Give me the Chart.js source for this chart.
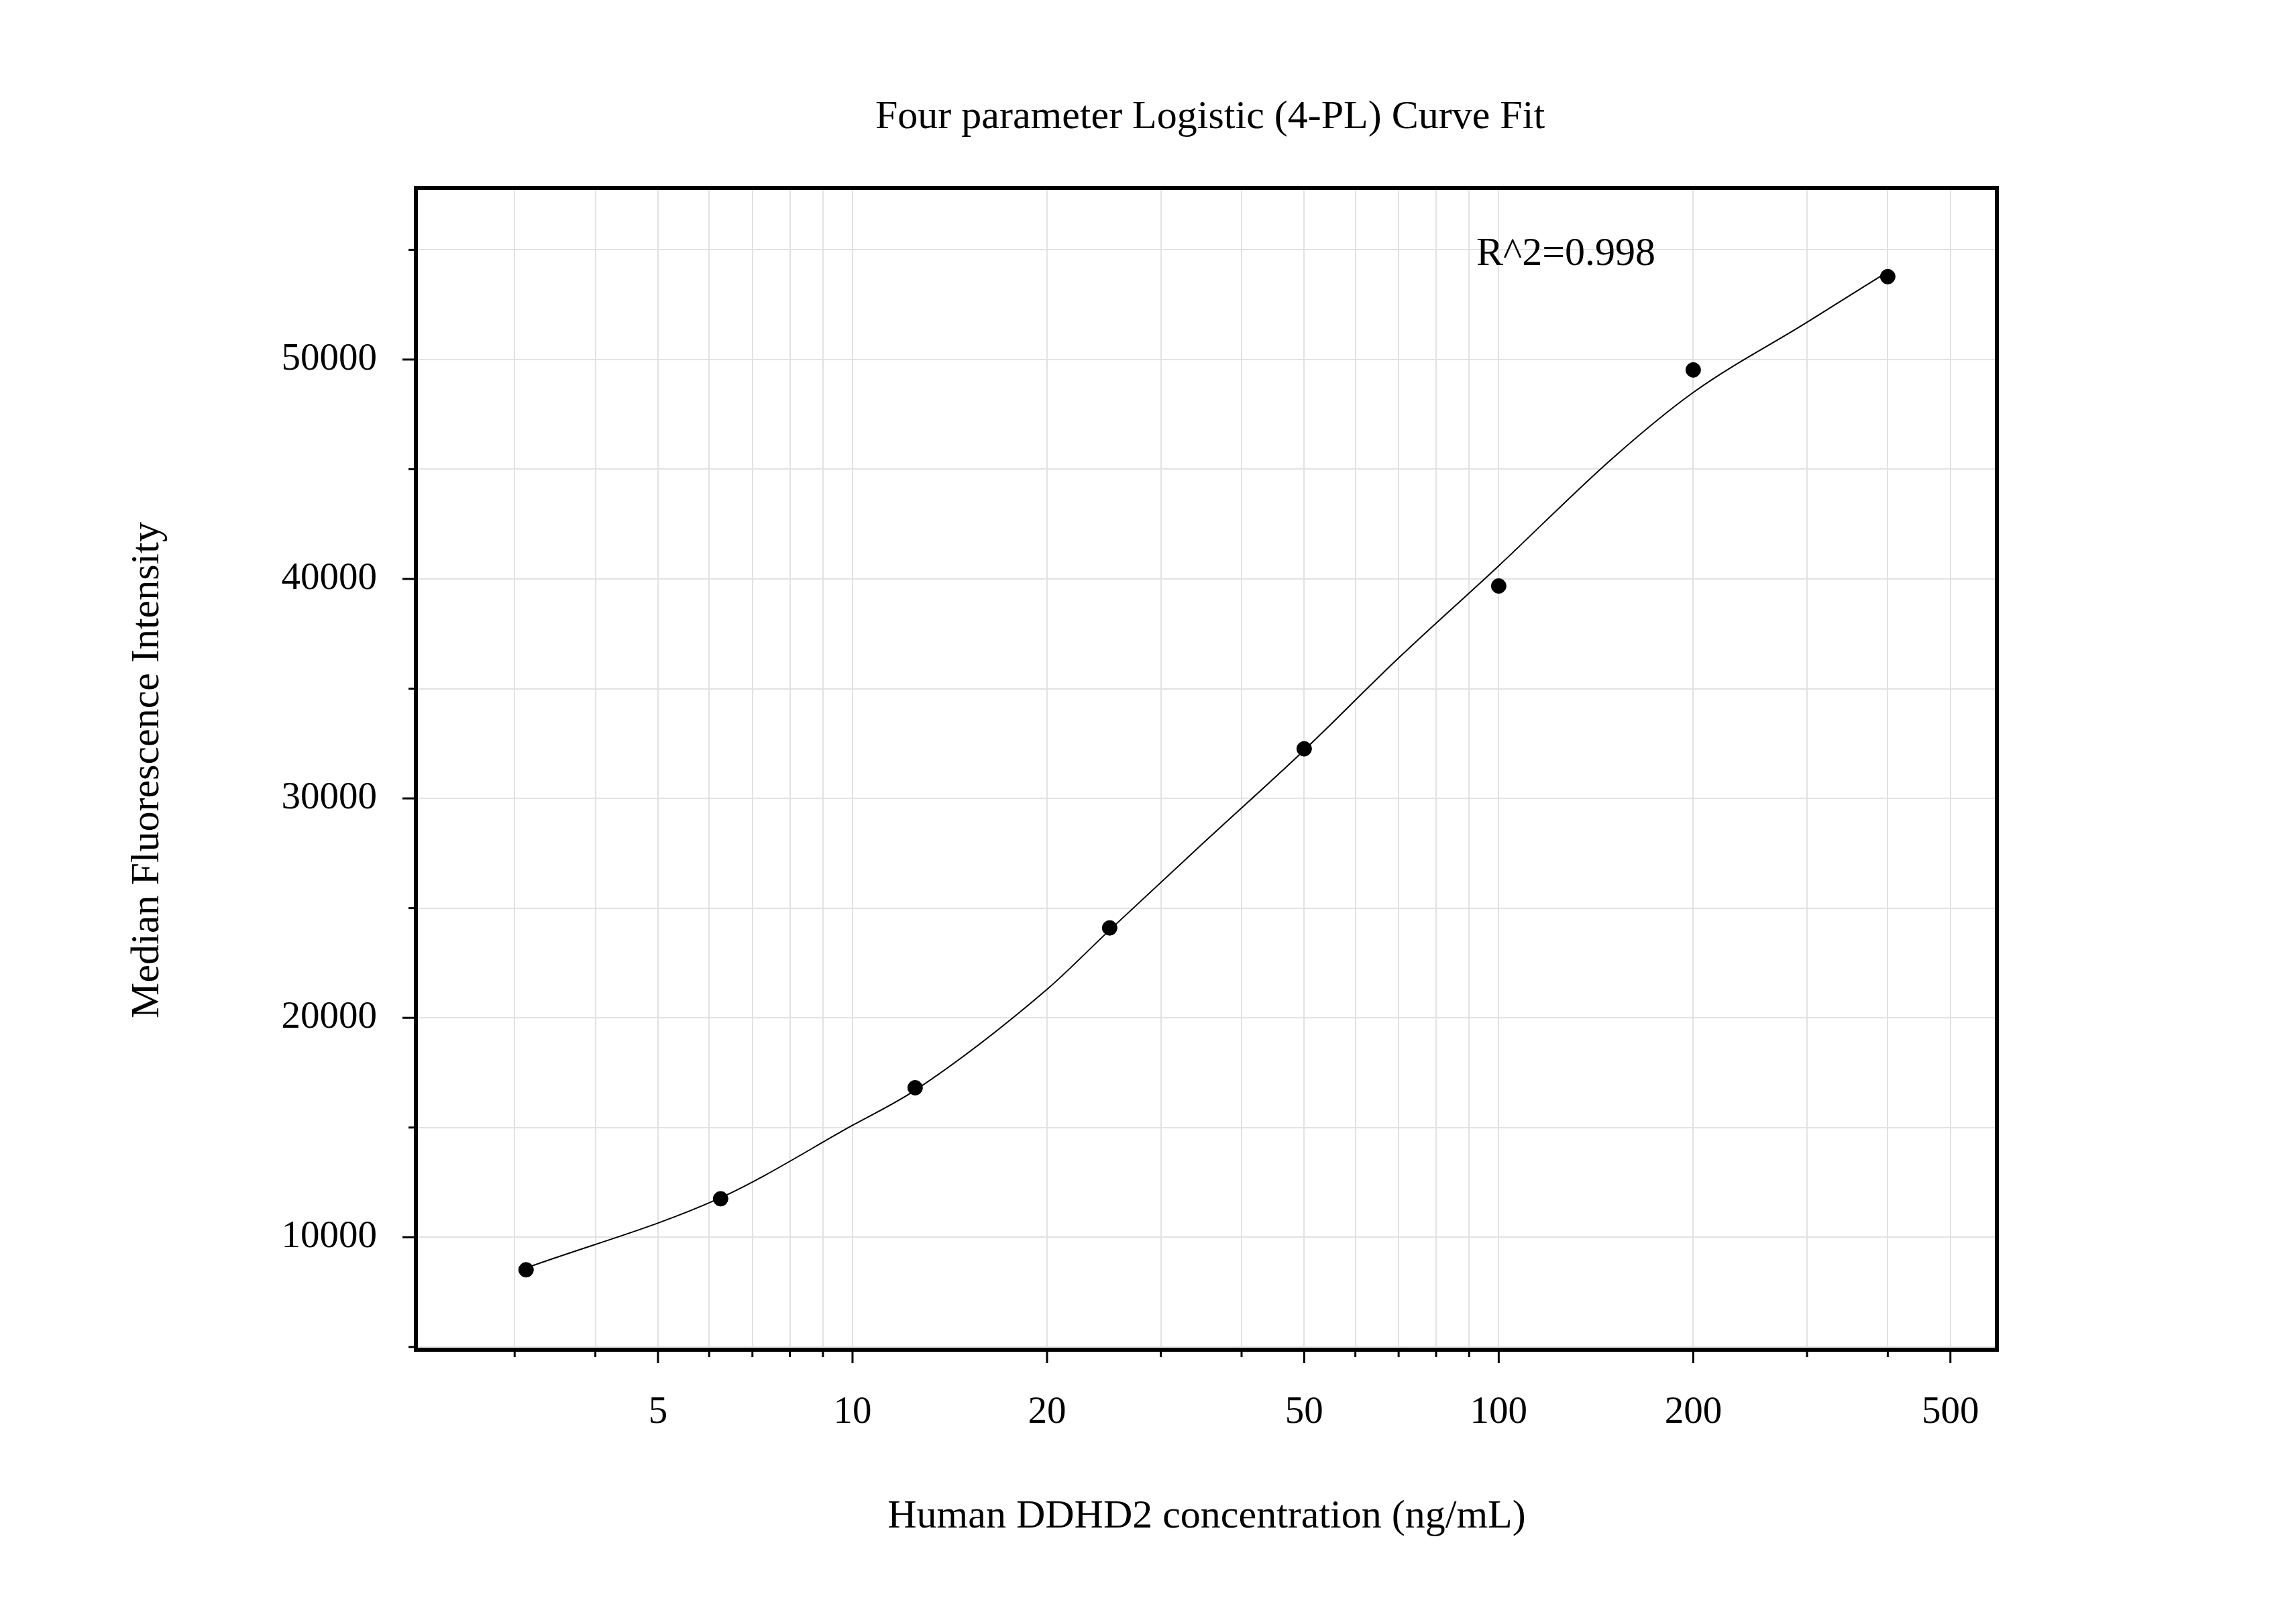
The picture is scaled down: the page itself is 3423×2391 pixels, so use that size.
<!DOCTYPE html>
<html><head><meta charset="utf-8">
<script src="https://cdn.jsdelivr.net/npm/chart.js@4/dist/chart.umd.min.js"></script>
<style>html,body{margin:0;padding:0;background:#fff}#w{width:3423px;height:2391px}</style>
</head><body><div id="w"><canvas id="c"></canvas></div>
<script>
const concentrations=[3.125,6.25,12.5,25,50,100,200,400];
const mfi=[8516,11754,16813,24098,32260,39680,49528,53778];
const curveX=[3.125,6.25,10,12.5,20,25,35,50,70,100,150,200,300,400];
const curveY=[8600,11800,15100,16700,21300,24000,28000,32200,36400,40600,45500,48500,51700,54000];
const xTickLabels=[5,10,20,50,100,200,500];
const xTickValues=[3,4,5,6,7,8,9,10,20,30,40,50,60,70,80,90,100,200,300,400,500];
const yTickValues=[5000,10000,15000,20000,25000,30000,35000,40000,45000,50000,55000];
const yTickLabels=[10000,20000,30000,40000,50000];
const F='"Liberation Serif", "Times New Roman", serif';
const deco={id:'deco',afterDraw(ch){const c=ch.ctx,a=ch.chartArea;c.save();
c.strokeStyle='#000';c.lineWidth=6;c.strokeRect(a.left,a.top,a.right-a.left,a.bottom-a.top);
c.lineWidth=3;const xs=ch.scales.x,ys=ch.scales.y;
xTickValues.forEach(v=>{const p=xs.getPixelForValue(v);const L=xTickLabels.includes(v)?20:11;c.beginPath();c.moveTo(p,a.bottom);c.lineTo(p,a.bottom+L);c.stroke();});
yTickValues.forEach(v=>{const p=ys.getPixelForValue(v);const L=yTickLabels.includes(v)?20:11;c.beginPath();c.moveTo(a.left,p);c.lineTo(a.left-L,p);c.stroke();});
c.fillStyle='#000';c.font='60px '+F;c.textAlign='center';c.textBaseline='middle';
c.fillText('Four parameter Logistic (4-PL) Curve Fit',1804,175);
c.fillText('Human DDHD2 concentration (ng/mL)',1799,2261);
c.textAlign='left';c.fillText('R^2=0.998',2201,379);
c.translate(220,1148);c.rotate(-Math.PI/2);c.textAlign='center';c.fillText('Median Fluorescence Intensity',0,0);
c.restore();}};
new Chart(document.getElementById('c'),{type:'scatter',
data:{datasets:[
{data:curveX.map((x,i)=>({x,y:curveY[i]})),showLine:true,pointRadius:0,borderColor:'#000',borderWidth:2,cubicInterpolationMode:'monotone'},
{data:concentrations.map((x,i)=>({x,y:mfi[i]})),pointRadius:11,backgroundColor:'#000',borderColor:'#000'}]},
options:{responsive:true,maintainAspectRatio:false,animation:false,
layout:{padding:{left:0,right:446,top:280,bottom:0}},
plugins:{legend:{display:false},tooltip:{enabled:false}},
scales:{
x:{type:'logarithmic',min:2.11,max:590,
afterBuildTicks:s=>{s.ticks=xTickValues.map(v=>({value:v}));},
afterFit:s=>{s.height=379;},
ticks:{autoSkip:false,maxRotation:0,padding:60,color:'#000',font:{family:F,size:57},callback:v=>xTickLabels.includes(v)?String(v):''},
grid:{color:'#e2e2e2',lineWidth:2,drawTicks:false},border:{display:false}},
y:{min:4873,max:57825,
afterBuildTicks:s=>{s.ticks=yTickValues.map(v=>({value:v}));},
afterFit:s=>{s.width=620;},
ticks:{padding:58,color:'#000',font:{family:F,size:57},callback:v=>yTickLabels.includes(v)?String(v):''},
grid:{color:'#e2e2e2',lineWidth:2,drawTicks:false},border:{display:false}}}},
plugins:[deco]});
</script></body></html>
